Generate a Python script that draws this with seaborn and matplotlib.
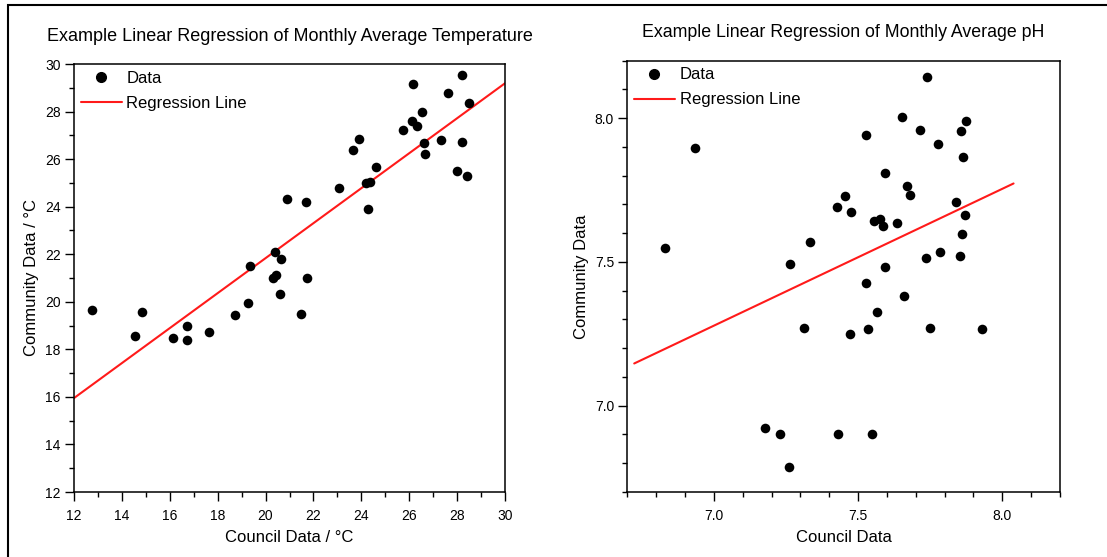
import matplotlib
matplotlib.use("Agg")
import matplotlib.pyplot as plt
import seaborn as sns
import numpy as np
import pandas as pd
from matplotlib.lines import Line2D
from matplotlib.patches import Rectangle
from matplotlib.ticker import MultipleLocator

# ---------------- data: temperature ----------------
temp_council = [12.77, 14.56, 14.83, 16.15, 16.72, 16.72, 17.63, 18.71, 19.26, 19.35,
                20.32, 20.42, 20.40, 20.63, 20.59, 20.88, 21.47, 21.69, 21.72, 23.08,
                23.64, 23.90, 24.20, 24.36, 24.27, 24.61, 25.76, 26.17, 26.13, 26.31,
                26.54, 26.62, 26.66, 27.33, 27.64, 28.22, 28.49, 28.21, 27.99, 28.40]
temp_community = [19.64, 18.57, 19.58, 18.49, 18.99, 18.40, 18.74, 19.43, 19.96, 21.52,
                  21.00, 21.12, 22.10, 21.80, 20.33, 24.31, 19.49, 24.21, 21.02, 24.80,
                  26.38, 26.84, 24.99, 25.02, 23.91, 25.65, 27.24, 29.17, 27.61, 27.40,
                  27.99, 26.66, 26.21, 26.79, 28.79, 29.54, 28.34, 26.72, 25.50, 25.30]
temp_line_x = [12.0, 30.0]
temp_line_y = [15.95, 29.19]

# ---------------- data: pH ----------------
ph_council = [6.832, 6.933, 7.264, 7.334, 7.426, 7.455, 7.475, 7.528, 7.554, 7.577,
              7.586, 7.595, 7.636, 7.651, 7.671, 7.680, 7.713, 7.738, 7.776, 7.839,
              7.853, 7.857, 7.861, 7.865, 7.872, 7.874, 7.736, 7.785, 7.593, 7.528,
              7.659, 7.567, 7.312, 7.473, 7.534, 7.751, 7.931, 7.176, 7.231, 7.430,
              7.548, 7.259]
ph_community = [7.548, 7.896, 7.492, 7.569, 7.690, 7.729, 7.674, 7.943, 7.643, 7.650,
                7.625, 7.809, 7.636, 8.003, 7.763, 7.733, 7.958, 8.145, 7.909, 7.707,
                7.521, 7.954, 7.598, 7.865, 7.662, 7.990, 7.514, 7.536, 7.481, 7.428,
                7.380, 7.326, 7.270, 7.248, 7.266, 7.271, 7.266, 6.924, 6.901, 6.901,
                6.901, 6.786]
ph_line_x = [6.724, 8.039]
ph_line_y = [7.147, 7.773]

titles = ["Example Linear Regression of Monthly Average Temperature",
          "Example Linear Regression of Monthly Average pH"]
xlabels = ["Council Data / \u00b0C", "Council Data"]
ylabels = ["Community Data / \u00b0C", "Community Data"]
legend_labels = ["Data", "Regression Line"]

sns.set_theme(style="white")
plt.rcParams['font.family'] = ['Liberation Sans', 'DejaVu Sans']
plt.rcParams['axes.edgecolor'] = 'black'
plt.rcParams['xtick.color'] = 'black'
plt.rcParams['ytick.color'] = 'black'
plt.rcParams['text.color'] = 'black'
plt.rcParams['axes.labelcolor'] = 'black'

W, H = 1107, 557
fig = plt.figure(figsize=(W / 100, H / 100), dpi=100)
fig.patch.set_facecolor('white')

ax1 = fig.add_axes([74 / W, 1 - 492 / H, (505 - 74) / W, (492 - 64) / H])
ax2 = fig.add_axes([627.3 / W, 1 - 492 / H, (1060 - 627.3) / W, (492 - 60.7) / H])

df_t = pd.DataFrame({"x": temp_council, "y": temp_community})
df_tl = pd.DataFrame({"x": temp_line_x, "y": temp_line_y})
df_p = pd.DataFrame({"x": ph_council, "y": ph_community})
df_pl = pd.DataFrame({"x": ph_line_x, "y": ph_line_y})

for ax, d, dl in [(ax1, df_t, df_tl), (ax2, df_p, df_pl)]:
    sns.lineplot(data=dl, x="x", y="y", ax=ax, color="#ff1a1a", linewidth=1.5, zorder=2)
    sns.scatterplot(data=d, x="x", y="y", ax=ax, color="black", s=48,
                    edgecolor="black", linewidth=0, zorder=3)

ax1.set_xlim(12, 30)
ax1.set_ylim(12, 30)
ax1.xaxis.set_major_locator(MultipleLocator(2))
ax1.xaxis.set_minor_locator(MultipleLocator(1))
ax1.yaxis.set_major_locator(MultipleLocator(2))
ax1.yaxis.set_minor_locator(MultipleLocator(1))

ax2.set_xlim(6.7, 8.2)
ax2.set_ylim(6.7, 8.2)
ax2.set_xticks([7.0, 7.5, 8.0])
ax2.set_yticks([7.0, 7.5, 8.0])
ax2.xaxis.set_minor_locator(MultipleLocator(0.1))
ax2.yaxis.set_minor_locator(MultipleLocator(0.1))
ax2.xaxis.set_major_formatter(matplotlib.ticker.FormatStrFormatter('%.1f'))
ax2.yaxis.set_major_formatter(matplotlib.ticker.FormatStrFormatter('%.1f'))

title_sizes = [12.95, 12.75]
title_pads = [16.5, 17]
for i, ax in enumerate([ax1, ax2]):
    for sp in ax.spines.values():
        sp.set_visible(True)
        sp.set_linewidth(1.1)
        sp.set_color('black')
    ax.tick_params(axis='both', which='major', direction='out', length=6.5, width=1.0,
                   labelsize=10, bottom=True, left=True, top=False, right=False, pad=3)
    ax.tick_params(axis='x', which='major', pad=6)
    ax.tick_params(axis='both', which='minor', direction='out', length=3.5, width=1.0,
                   bottom=True, left=True, top=False, right=False)
    ax.set_title(titles[i], fontsize=title_sizes[i], pad=title_pads[i])
    ax.set_xlabel(xlabels[i], fontsize=12, labelpad=5)
    ax.set_ylabel(ylabels[i], fontsize=12, labelpad=4)
    handles = [Line2D([], [], marker='o', color='black', linestyle='none', markersize=7),
               Line2D([], [], color='#ff1a1a', linewidth=1.5)]
    ax.legend(handles, legend_labels, loc='upper left', frameon=False, fontsize=12,
              handlelength=2.45, handletextpad=0.3, borderaxespad=0.2,
              labelspacing=0.6, borderpad=0.2)

fig.patches.append(Rectangle((8 / W, -0.1), 1.2, 0.1 + 1 - 5 / H, transform=fig.transFigure,
                             fill=False, edgecolor='black', linewidth=1.5, zorder=10))

fig.savefig("out.png", dpi=100, facecolor='white')
